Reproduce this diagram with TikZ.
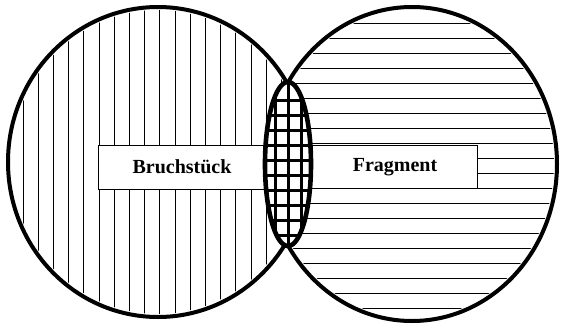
\documentclass[tikz,border=0pt]{standalone}
\usepackage{fontspec}
\setmainfont{Liberation Serif}
\begin{document}
\begin{tikzpicture}[x=1pt,y=-1pt,
  hatch/.style={line width=1pt,black},
  rim/.style={line width=4pt,black},
  lensrim/.style={line width=4.6pt,black},
  gridline/.style={line width=3pt,black},
  labelbox/.style={fill=white,draw=black,line width=0.8pt},
  lbl/.style={font=\fontsize{20}{22}\selectfont\bfseries,inner sep=0pt}]
\useasboundingbox (0,0) rectangle (563,327);
% left circle vertical hatching
\begin{scope}
  \clip (158,162) ellipse [x radius=147pt, y radius=152pt];
  \foreach \k in {0,...,17} {
    \draw[hatch] ({23+15.2*\k},0) -- ({23+15.2*\k},327);
  }
\end{scope}
% right circle horizontal hatching
\begin{scope}
  \clip (412,164) ellipse [x radius=142pt, y radius=154pt];
  \foreach \k in {0,...,19} {
    \draw[hatch] (250,{23+15*\k}) -- (563,{23+15*\k});
  }
\end{scope}
% white label boxes
\draw[labelbox] (98,145) rectangle (275,189);
\draw[labelbox] (300,145) rectangle (477,188);
% circle outlines
\draw[rim] (158,162) ellipse [x radius=150pt, y radius=155pt];
\draw[rim] (412,164) ellipse [x radius=145pt, y radius=157pt];
% lens (intersection)
\fill[white] (288,164) ellipse [x radius=23pt, y radius=82pt];
\begin{scope}
  \clip (288,164) ellipse [x radius=23pt, y radius=82pt];
  \foreach \xx in {275,288,301} {
    \draw[gridline] (\xx,80) -- (\xx,250);
  }
  \foreach \k in {0,...,9} {
    \draw[gridline] (260,{100+15*\k}) -- (315,{100+15*\k});
  }
\end{scope}
\draw[lensrim] (288,164) ellipse [x radius=23pt, y radius=82pt];
% labels
\node[lbl] (bruch) at (182,167) {Bruchstück};
\node[lbl] (frag) at (395,167) {Fragment};
\end{tikzpicture}
\end{document}
